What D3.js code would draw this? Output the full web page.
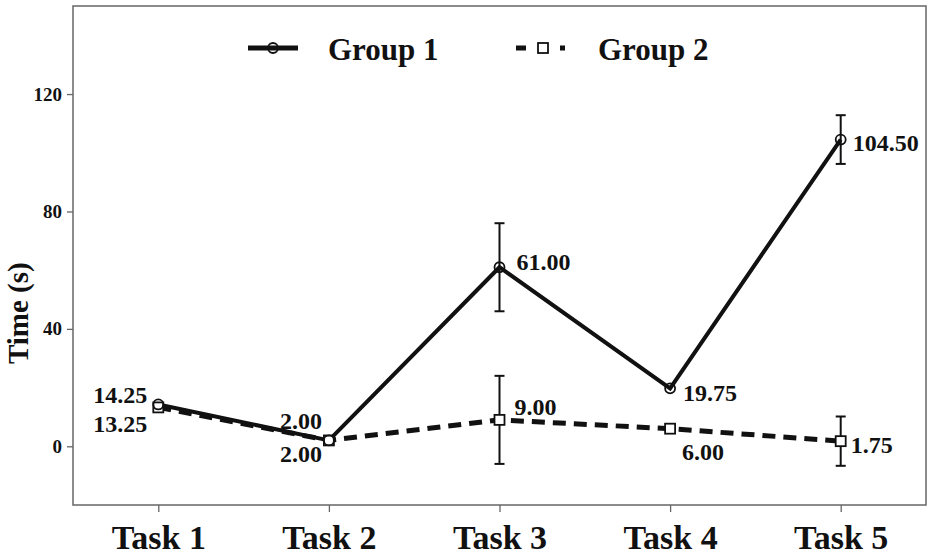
<!DOCTYPE html>
<html>
<head>
<meta charset="utf-8">
<script src="https://cdn.jsdelivr.net/npm/d3@7"></script>
<style>
  html, body { margin: 0; padding: 0; background: #fff; }
  text { font-family: "Liberation Serif", "DejaVu Serif", serif; font-weight: bold; fill: #111; }
</style>
</head>
<body>
<div id="chart"></div>
<script>
// categories + series
const tasks   = ["Task 1", "Task 2", "Task 3", "Task 4", "Task 5"];
const group1  = [14.25, 2.00, 61.00, 19.75, 104.50];
const group2  = [13.25, 2.00, 9.00, 6.00, 1.75];
const err1    = [0, 0, 15, 0, 8.3];
const err2    = [0, 0, 15, 0, 8.4];
const yTicks  = [0, 40, 80, 120];
const seriesNames = ["Group 1", "Group 2"];

// label offsets (dx, dy, anchor) per point
const lab1 = [[-11, -1, "end"], [-7, -11, "end"], [17, 3, "start"], [13, 13, "start"], [12, 11, "start"]];
const lab2 = [[-11, 25, "end"], [-7, 22, "end"], [15, -5, "start"], [12, 31, "start"], [10, 12, "start"]];

const W = 929, H = 556;
const box = { left: 73, right: 926, top: 6, bottom: 505 };

const svg = d3.select("#chart").append("svg")
  .attr("width", W).attr("height", H);

const x = d3.scalePoint()
  .domain(tasks)
  .range([box.left, box.right])
  .padding(0.5);

const y = d3.scaleLinear()
  .domain([-20, 150])
  .range([box.bottom, box.top]);

// frame
svg.append("rect")
  .attr("x", box.left).attr("y", box.top)
  .attr("width", box.right - box.left).attr("height", box.bottom - box.top)
  .attr("fill", "none").attr("stroke", "#666").attr("stroke-width", 1.5);

// y axis
svg.append("g")
  .attr("transform", `translate(${box.left},0)`)
  .call(d3.axisLeft(y).tickValues(yTicks).tickSize(6).tickPadding(5))
  .call(g => g.select(".domain").remove())
  .call(g => g.selectAll(".tick line").attr("stroke", "#666").attr("stroke-width", 1.3))
  .selectAll("text").attr("font-size", 19).attr("font-family", null).attr("fill", null);

// x axis
svg.append("g")
  .attr("transform", `translate(0,${box.bottom})`)
  .call(d3.axisBottom(x).tickSize(7).tickPadding(13))
  .call(g => g.select(".domain").remove())
  .call(g => g.selectAll(".tick line").attr("stroke", "#666").attr("stroke-width", 1.3))
  .selectAll("text").attr("font-size", 34).attr("font-family", null).attr("fill", null);

// y label
svg.append("text")
  .attr("transform", `translate(28,${(y(0) + y(120)) / 2 + 43}) rotate(-90)`)
  .attr("text-anchor", "middle")
  .attr("font-size", 29)
  .text("Time (s)");

const series = [
  { vals: group1, err: err1, dash: null, width: 4, mark: "circle", labs: lab1 },
  { vals: group2, err: err2, dash: "13,8", width: 5, mark: "square", labs: lab2 }
];

// error bars
series.forEach(s => {
  const g = svg.append("g").attr("stroke", "#111").attr("stroke-width", 2);
  s.vals.forEach((v, i) => {
    if (!s.err[i]) return;
    const cx = x(tasks[i]);
    g.append("line").attr("x1", cx).attr("x2", cx)
      .attr("y1", y(v - s.err[i])).attr("y2", y(v + s.err[i]));
    [v - s.err[i], v + s.err[i]].forEach(e => {
      g.append("line").attr("x1", cx - 5).attr("x2", cx + 5)
        .attr("y1", y(e)).attr("y2", y(e));
    });
  });
});

// lines
const line = d3.line().x((d, i) => x(tasks[i])).y(d => y(d));
series.slice().reverse().forEach(s => {
  svg.append("path")
    .datum(s.vals)
    .attr("fill", "none")
    .attr("stroke", "#111")
    .attr("stroke-width", s.width)
    .attr("stroke-dasharray", s.dash)
    .attr("d", line);
});

// markers
function drawMark(g, type, cx, cy) {
  if (type === "circle") {
    g.append("circle").attr("cx", cx).attr("cy", cy).attr("r", 5)
      .attr("fill", "none").attr("stroke", "#111").attr("stroke-width", 1.8);
  } else {
    g.append("rect").attr("x", cx - 5).attr("y", cy - 5).attr("width", 10).attr("height", 10)
      .attr("fill", "#fff").attr("stroke", "#111").attr("stroke-width", 1.8);
  }
}
series.slice().reverse().forEach(s => {
  const g = svg.append("g");
  s.vals.forEach((v, i) => drawMark(g, s.mark, x(tasks[i]), y(v)));
});

// value labels
series.forEach(s => {
  svg.append("g").selectAll("text")
    .data(s.vals).join("text")
      .attr("x", (d, i) => x(tasks[i]) + s.labs[i][0])
      .attr("y", (d, i) => y(d) + s.labs[i][1])
      .attr("text-anchor", (d, i) => s.labs[i][2])
      .attr("font-size", 24)
      .text(d => d3.format(".2f")(d));
});

// legend
const leg = [
  { name: seriesNames[0], x0: 248, x1: 298, dash: null, width: 5, mark: "circle", mx: 273, tx: 328 },
  { name: seriesNames[1], x0: 516, x1: 565, dash: "10,12", width: 5, mark: "square", mx: 543, tx: 598 }
];
leg.forEach(l => {
  const g = svg.append("g");
  g.append("line").attr("x1", l.x0).attr("x2", l.x1)
    .attr("y1", 48).attr("y2", 48)
    .attr("stroke", "#111").attr("stroke-width", l.width)
    .attr("stroke-dasharray", l.dash);
  drawMark(g, l.mark, l.mx, 48);
  g.append("text").attr("x", l.tx).attr("y", 60)
    .attr("font-size", 31).text(l.name);
});
</script>
</body>
</html>
